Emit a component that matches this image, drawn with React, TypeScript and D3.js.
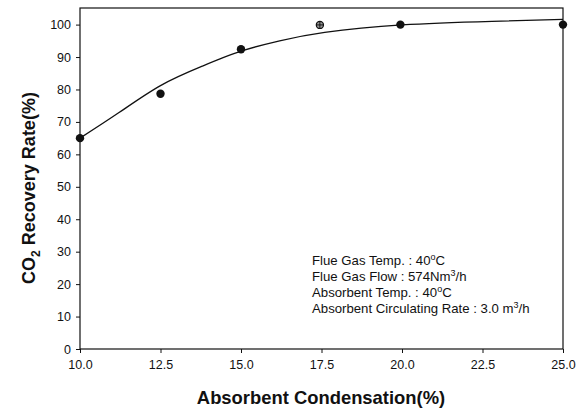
import { useEffect, useRef } from "react";
import * as d3 from "d3";

// measured points
const xVals = [10.0, 12.5, 15.0, 17.45, 19.95, 25.0];
const yVals = [65, 78.7, 92.4, 99.9, 100, 100];
const openMarker = [false, false, false, true, false, false];

// fitted curve
const curveX = [10, 11.2, 12.5, 13.8, 15, 16.2, 17.6, 20, 22.8, 25];
const curveY = [65, 72.8, 81.2, 87.2, 91.8, 95.0, 97.6, 99.9, 101, 101.6];

const xTicks = [10, 12.5, 15, 17.5, 20, 22.5, 25];
const yTicks = [0, 10, 20, 30, 40, 50, 60, 70, 80, 90, 100];

const notes = [
  ["Flue Gas Temp. : 40", "o", "C"],
  ["Flue Gas Flow : 574Nm", "3", "/h"],
  ["Absorbent Temp. : 40", "o", "C"],
  ["Absorbent Circulating Rate : 3.0 m", "3", "/h"],
];

const App = () => {
  const svgRef = useRef(null);

  useEffect(() => {
    const svg = d3.select(svgRef.current);
    svg.selectAll("*").remove();

    const left = 80, right = 563, top = 8, bottom = 349;
    const x = d3.scaleLinear([10, 25], [left, right]);
    const y = d3.scaleLinear([0, 100], [bottom, bottom - 324.4]);
    const font = "'Liberation Sans', Arial, sans-serif";

    svg.append("rect").attr("width", 580).attr("height", 409).attr("fill", "#fff");

    // frame
    svg.append("rect")
      .attr("x", left).attr("y", top)
      .attr("width", right - left).attr("height", bottom - top)
      .attr("fill", "none").attr("stroke", "#111").attr("stroke-width", 1.2);

    const xAxis = svg.append("g")
      .attr("transform", `translate(0,${bottom})`)
      .call(d3.axisBottom(x).tickValues(xTicks).tickFormat(d3.format(".1f")).tickSize(4).tickSizeOuter(0));
    xAxis.select(".domain").remove();
    xAxis.selectAll("line").attr("stroke", "#111");
    xAxis.selectAll("text").attr("font-family", font).attr("font-size", 12.5).attr("fill", "#111").attr("y", 9).attr("dy", "0.9em");

    const yAxis = svg.append("g")
      .attr("transform", `translate(${left},0)`)
      .call(d3.axisLeft(y).tickValues(yTicks).tickSize(4).tickSizeOuter(0));
    yAxis.select(".domain").remove();
    yAxis.selectAll("line").attr("stroke", "#111");
    yAxis.selectAll("text").attr("font-family", font).attr("font-size", 12.5).attr("fill", "#111").attr("x", -9);

    // curve
    const line = d3.line<number>()
      .x((d, i) => x(curveX[i]))
      .y((d) => y(d))
      .curve(d3.curveNatural);
    svg.append("path")
      .attr("d", line(curveY))
      .attr("fill", "none").attr("stroke", "#111").attr("stroke-width", 1.3);

    // markers
    xVals.forEach((xv, i) => {
      const cx = x(xv), cy = y(yVals[i]);
      if (openMarker[i]) {
        svg.append("circle").attr("cx", cx).attr("cy", cy).attr("r", 3.6)
          .attr("fill", "#999").attr("stroke", "#111").attr("stroke-width", 1.2);
        svg.append("path")
          .attr("d", `M${cx - 3.6},${cy}H${cx + 3.6}M${cx},${cy - 3.6}V${cy + 3.6}`)
          .attr("stroke", "#111").attr("stroke-width", 1);
      } else {
        svg.append("circle").attr("cx", cx).attr("cy", cy).attr("r", 4.2).attr("fill", "#111");
      }
    });

    // annotation
    const noteG = svg.append("g").attr("font-family", font).attr("font-size", 13.2).attr("fill", "#111");
    notes.forEach((n, i) => {
      const t = noteG.append("text").attr("x", 312).attr("y", 265 + i * 16);
      t.append("tspan").text(n[0]);
      t.append("tspan").attr("dy", -5).attr("font-size", 9).text(n[1]);
      t.append("tspan").attr("dy", 5).text(n[2]);
    });

    // axis titles
    svg.append("text")
      .attr("x", 321).attr("y", 404)
      .attr("text-anchor", "middle")
      .attr("font-family", font).attr("font-size", 18.4).attr("font-weight", "bold").attr("fill", "#111")
      .text("Absorbent Condensation(%)");

    const yt = svg.append("text")
      .attr("transform", `translate(35,188) rotate(-90)`)
      .attr("text-anchor", "middle")
      .attr("font-family", font).attr("font-size", 18).attr("font-weight", "bold").attr("fill", "#111");
    yt.append("tspan").text("CO");
    yt.append("tspan").attr("dy", 5).attr("font-size", 12).text("2");
    yt.append("tspan").attr("dy", -5).text(" Recovery Rate(%)");
  }, []);

  return (
    <svg ref={svgRef} width={580} height={409}
      style={{ position: "absolute", left: 0, top: 0 }} />
  );
};

export default App;
